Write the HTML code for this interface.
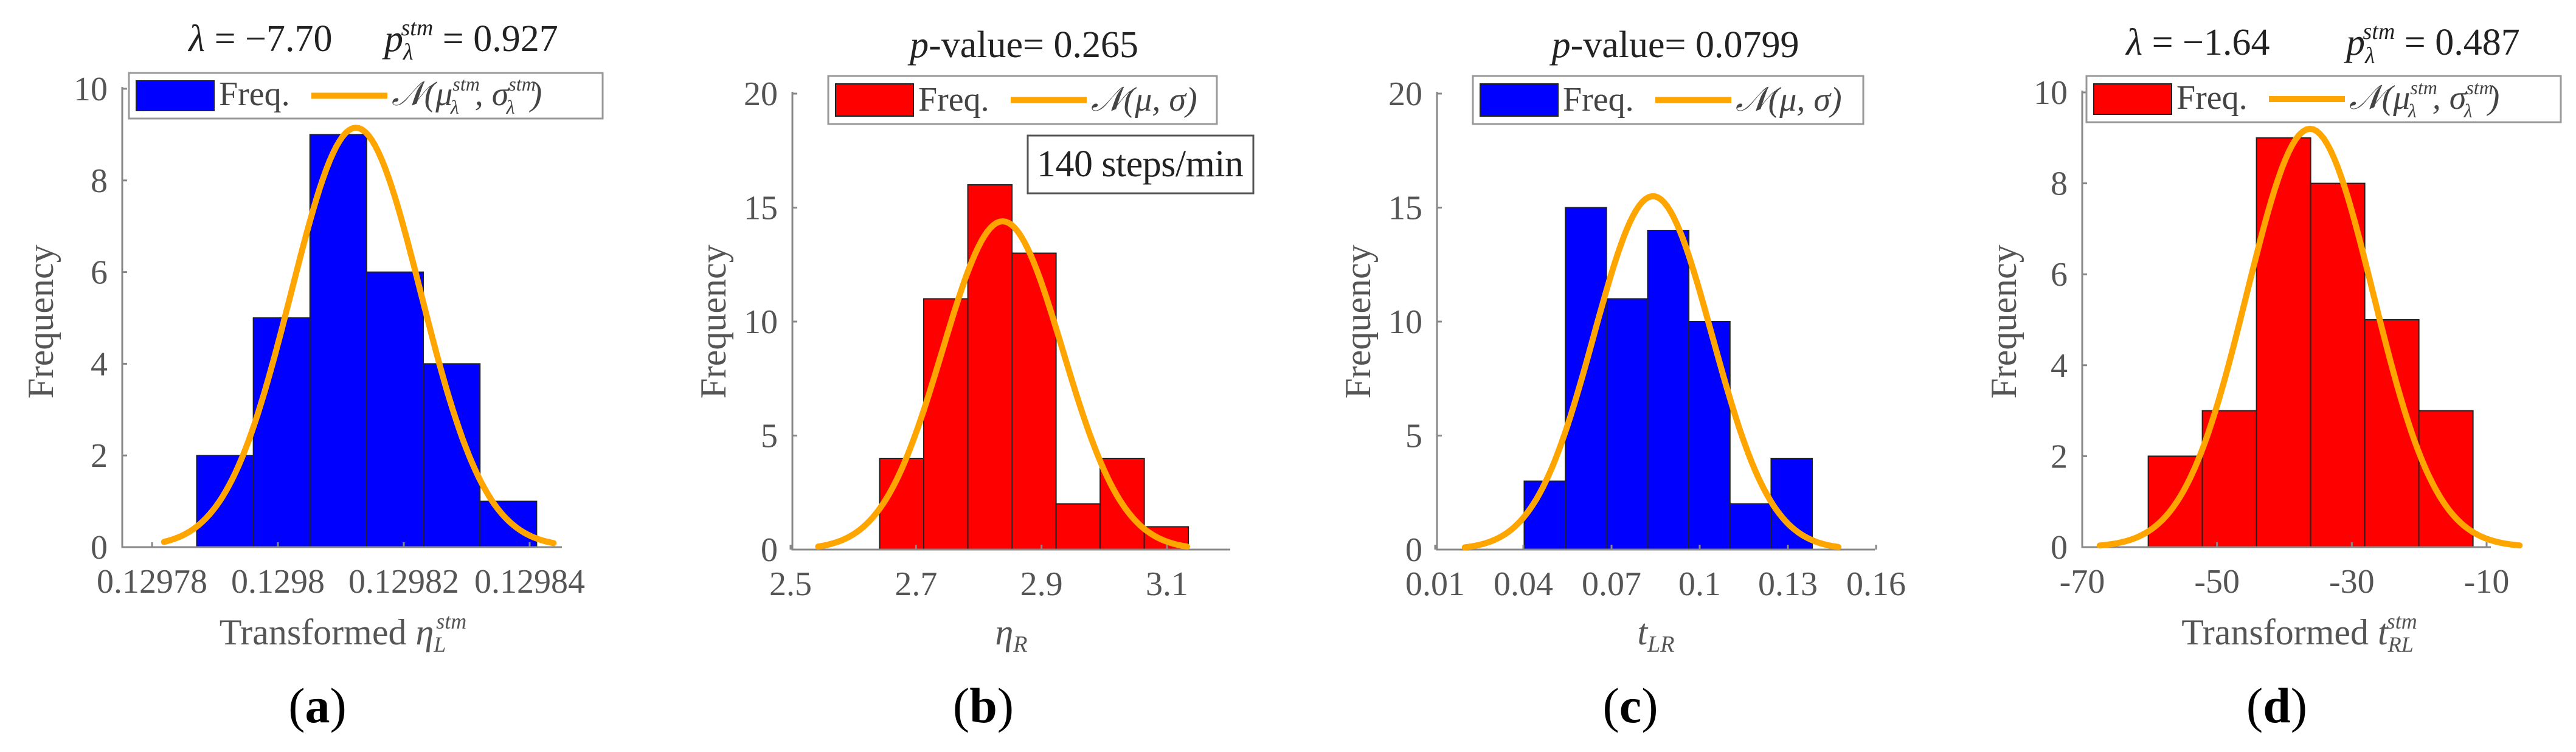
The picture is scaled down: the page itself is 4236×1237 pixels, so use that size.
<!DOCTYPE html>
<html><head><meta charset="utf-8">
<style>
html,body{margin:0;padding:0;background:#fff;}
svg{display:block;}
.tk{font-family:"Liberation Serif",serif;font-size:56px;fill:#555;}
.yl{font-family:"Liberation Serif",serif;font-size:60px;fill:#555;}
.tt{font-family:"Liberation Serif",serif;font-size:62px;fill:#222;}
.lg{font-family:"Liberation Serif",serif;font-size:56px;fill:#444;}
.cap{font-family:"Liberation Serif",serif;font-size:82px;fill:#000;}
</style></head>
<body>
<svg id="fig" width="4236" height="1237" viewBox="0 0 4236 1237" xmlns="http://www.w3.org/2000/svg"></svg>
<script>
// ---- data ----
const countsA = [2,5,9,6,4,1];
const binStartA = 0.1297871, binWidthA = 0.000009;
const fitA = [0.1298124, 0.0000103, 9.15]; // mean, sigma, peak
const fitRangeA = [0.1297819, 0.1298438];
const xTicksA = [0.12978,0.1298,0.12982,0.12984];
const xTickLabelsA = ["0.12978","0.1298","0.12982","0.12984"];
const yTicksA = [0,2,4,6,8,10];

const countsB = [4,11,16,13,2,4,1];
const binStartB = 2.642, binWidthB = 0.0703;
const fitB = [2.838, 0.096, 14.4];
const fitRangeB = [2.544, 3.132];
const xTicksB = [2.5,2.7,2.9,3.1];
const xTickLabelsB = ["2.5","2.7","2.9","3.1"];
const yTicksB = [0,5,10,15,20];

const countsC = [3,15,11,14,10,2,4];
const binStartC = 0.0403, binWidthC = 0.014;
const fitC = [0.0841, 0.0201, 15.5];
const fitRangeC = [0.0201, 0.1472];
const xTicksC = [0.01,0.04,0.07,0.1,0.13,0.16];
const xTickLabelsC = ["0.01","0.04","0.07","0.1","0.13","0.16"];
const yTicksC = [0,5,10,15,20];

const countsD = [2,3,9,8,5,3];
const binStartD = -60.2, binWidthD = 8.03;
const fitD = [-36.2, 9.37, 9.2];
const fitRangeD = [-67.4, -5.1];
const xTicksD = [-70,-50,-30,-10];
const xTickLabelsD = ["-70","-50","-30","-10"];
const yTicksD = [0,2,4,6,8,10];

// ---- layout ----
const NS = "http://www.w3.org/2000/svg";
const svg = document.getElementById('fig');
function mk(tag, attrs, parent, text){
  const e = document.createElementNS(NS, tag);
  for (const k in attrs) e.setAttribute(k, attrs[k]);
  if (text !== undefined) e.textContent = text;
  (parent||svg).appendChild(e);
  return e;
}
const panels = [
 {id:'a', counts:countsA, bs:binStartA, bw:binWidthA, fit:fitA, fr:fitRangeA, xt:xTicksA, xl:xTickLabelsA, yt:yTicksA,
  ax:201, axEnd:924, y0:900, yTopPx:146, yMax:10, xv0:0.12978, xp0:250, xv1:0.12984, xp1:871, color:'#0000FF',
  legend:[212,120,779,75], ylabX:67, xlabX:564, capX:522},
 {id:'b', counts:countsB, bs:binStartB, bw:binWidthB, fit:fitB, fr:fitRangeB, xt:xTicksB, xl:xTickLabelsB, yt:yTicksB,
  ax:1303, axEnd:2023, y0:904, yTopPx:154, yMax:20, xv0:2.5, xp0:1300, xv1:3.1, xp1:1919, color:'#FF0000',
  legend:[1362,125,639,79], ylabX:1173, xlabX:1663, capX:1617},
 {id:'c', counts:countsC, bs:binStartC, bw:binWidthC, fit:fitC, fr:fitRangeC, xt:xTicksC, xl:xTickLabelsC, yt:yTicksC,
  ax:2363, axEnd:3083, y0:904, yTopPx:154, yMax:20, xv0:0.01, xp0:2360, xv1:0.16, xp1:3085, color:'#0000FF',
  legend:[2422,125,642,79], ylabX:2233, xlabX:2723, capX:2681},
 {id:'d', counts:countsD, bs:binStartD, bw:binWidthD, fit:fitD, fr:fitRangeD, xt:xTicksD, xl:xTickLabelsD, yt:yTicksD,
  ax:3424, axEnd:4096, y0:900, yTopPx:152, yMax:10, xv0:-70, xp0:3424, xv1:-10, xp1:4089, color:'#FF0000',
  legend:[3431,125,780,76], ylabX:3295, xlabX:3781, capX:3744}
];

panels.forEach(p=>{
  const g = mk('g', {});
  
  
  const X = v => p.xp0 + (v - p.xv0) * (p.xp1 - p.xp0) / (p.xv1 - p.xv0);
  const Y = v => p.y0 - v * (p.y0 - p.yTopPx) / p.yMax;
  p.counts.forEach((c,i)=>{
    const x1 = X(p.bs + i*p.bw), x2 = X(p.bs + (i+1)*p.bw);
    const r = mk('rect', {x:x1, y:Y(c), width:x2-x1, height:Y(0)-Y(c), fill:p.color, stroke:'#222', 'stroke-width':2}, g);
    
    
  });
  const axes = mk('path', {d:`M${p.ax},${p.yTopPx-3} L${p.ax},${p.y0} L${p.axEnd},${p.y0}`, fill:'none', stroke:'#888', 'stroke-width':3}, g);
  
  
  p.yt.forEach(v=>{
    mk('line',{x1:p.ax,x2:p.ax+8,y1:Y(v),y2:Y(v),stroke:'#888','stroke-width':3},g);
    const t = mk('text',{x:p.ax-24,y:Y(v)+19,'text-anchor':'end',class:'tk'},g,String(v));
    
    
  });
  p.xt.forEach((v,i)=>{
    mk('line',{x1:X(v),x2:X(v),y1:p.y0,y2:p.y0-8,stroke:'#888','stroke-width':3},g);
    const t = mk('text',{x:X(v),y:p.y0+75,'text-anchor':'middle',class:'tk'},g,p.xl[i]);
    
    
  });
  const [mu, sg, pk] = p.fit;
  let d = '';
  const N = 120;
  for (let k=0;k<=N;k++){
    const v = p.fr[0] + (p.fr[1]-p.fr[0])*k/N;
    const f = pk*Math.exp(-0.5*((v-mu)/sg)**2);
    d += (k?'L':'M') + X(v).toFixed(1) + ',' + Y(f).toFixed(1);
  }
  const cv = mk('path',{d:d,fill:'none',stroke:'#FFA500','stroke-width':10,'stroke-linecap':'round'},g);
  
  
  const [lx,ly,lw,lh] = p.legend;
  const lg = mk('g',{},g);
  
  
  mk('rect',{x:lx,y:ly,width:lw,height:lh,fill:'#fff',stroke:'#999','stroke-width':3},lg);
  mk('rect',{x:lx+12,y:ly+13,width:128,height:lh-26,fill:p.color,stroke:'#222','stroke-width':2},lg);
  mk('text',{x:lx+148,y:ly+lh-22,class:'lg'},lg,'Freq.');
  mk('line',{x1:lx+300,x2:lx+425,y1:ly+lh/2,y2:ly+lh/2,stroke:'#FFA500','stroke-width':10},lg);
  const nt = mk('text',{x:lx+432,y:ly+lh-22,class:'lg','font-style':'italic'},lg);
  if (p.id==='a'||p.id==='d'){
    nt.innerHTML = '𝒩(μ<tspan font-size="32" dy="-24">stm</tspan><tspan font-size="32" dx="-48" dy="38">λ</tspan><tspan dy="-14" dx="26">, σ</tspan><tspan font-size="32" dy="-24">stm</tspan><tspan font-size="32" dx="-48" dy="38">λ</tspan><tspan dy="-14" dx="26">)</tspan>';
  } else {
    nt.textContent = '𝒩(μ, σ)';
  }
  const yl = mk('text',{x:p.ylabX,y:529,'text-anchor':'middle',class:'yl',transform:`rotate(-90 ${p.ylabX} 529)`,dy:'20'},g,'Frequency');
  
  
  const xl = mk('text',{x:p.xlabX,y:1060,'text-anchor':'middle',class:'yl'},g);
  
  
  if (p.id==='a') xl.innerHTML = 'Transformed <tspan font-style="italic">η</tspan><tspan font-size="36" font-style="italic" dy="12">L</tspan><tspan font-size="36" font-style="italic" dx="-16" dy="-38">stm</tspan>';
  if (p.id==='b') xl.innerHTML = '<tspan font-style="italic">η</tspan><tspan font-size="38" font-style="italic" dy="12">R</tspan>';
  if (p.id==='c') xl.innerHTML = '<tspan font-style="italic">t</tspan><tspan font-size="38" font-style="italic" dy="12">LR</tspan>';
  if (p.id==='d') xl.innerHTML = 'Transformed <tspan font-style="italic">t</tspan><tspan font-size="36" font-style="italic" dy="12">RL</tspan><tspan font-size="36" font-style="italic" dx="-44" dy="-38">stm</tspan>';
  const cp = mk('text',{x:p.capX,y:1188,'text-anchor':'middle',class:'cap'},g);
  cp.innerHTML = '(<tspan font-weight="bold">'+p.id+'</tspan>)';
  
  
});

function title(x, y, html, name){
  const t = mk('text',{x:x,y:y,'text-anchor':'middle',class:'tt'});
  t.innerHTML = html;
  
  
}
title(614, 84, '<tspan font-style="italic">λ</tspan> = −7.70 <tspan dx="70" font-style="italic">p</tspan><tspan font-size="38" font-style="italic" dy="14">λ</tspan><tspan font-size="38" font-style="italic" dx="-20" dy="-40">stm</tspan><tspan dy="26"> = 0.927</tspan>', 'title-a');
title(1684, 94, '<tspan font-style="italic">p</tspan>-value= 0.265', 'title-b');
title(2755, 94, '<tspan font-style="italic">p</tspan>-value= 0.0799', 'title-c');
title(3820, 90, '<tspan font-style="italic">λ</tspan> = −1.64 <tspan dx="110" font-style="italic">p</tspan><tspan font-size="38" font-style="italic" dy="14">λ</tspan><tspan font-size="38" font-style="italic" dx="-20" dy="-40">stm</tspan><tspan dy="26"> = 0.487</tspan>', 'title-d');

const ab = mk('g',{});


mk('rect',{x:1690,y:223,width:371,height:95,fill:'#fff',stroke:'#555','stroke-width':3},ab);
mk('text',{x:1875,y:290,'text-anchor':'middle',class:'tt','font-size':'60',textLength:'340'},ab,'140 steps/min');
</script>
</body></html>
